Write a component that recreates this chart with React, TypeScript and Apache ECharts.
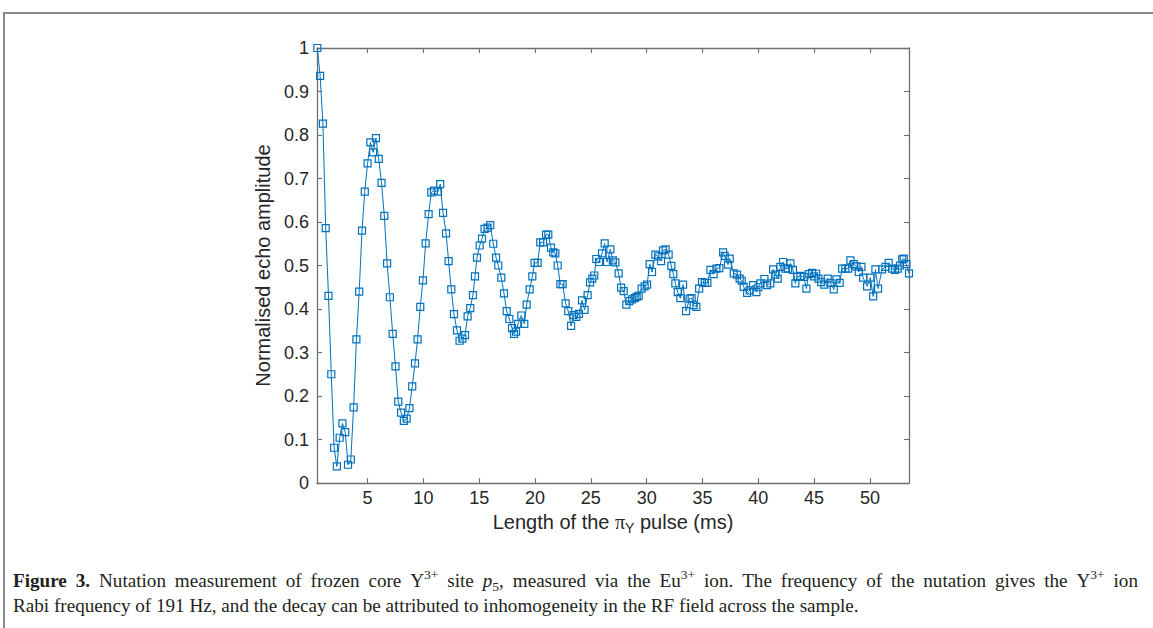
import React, { useEffect, useRef } from "react";
import * as echarts from "echarts";

// Pulse length (ms)
const PULSE_MS = [
  0.5, 0.75, 1, 1.25, 1.5, 1.75, 2, 2.25, 2.5, 2.75, 3, 3.25, 3.5, 3.75, 4, 4.25, 4.5, 4.75,
  5, 5.25, 5.5, 5.75, 6, 6.25, 6.5, 6.75, 7, 7.25, 7.5, 7.75, 8, 8.25, 8.5, 8.75, 9, 9.25,
  9.48, 9.72, 9.96, 10.2, 10.47, 10.71, 10.95, 11.31, 11.51, 11.76, 12.03, 12.26, 12.5, 12.74,
  13.01, 13.24, 13.49, 13.73, 13.96, 14.2, 14.44, 14.62, 14.8, 15.04, 15.25, 15.48, 15.75, 15.99,
  16.26, 16.51, 16.71, 16.98, 17.22, 17.46, 17.7, 17.94, 18.12, 18.3, 18.48, 18.77, 19.04, 19.25,
  19.52, 19.76, 19.96, 20.23, 20.47, 20.72, 20.99, 21.19, 21.43, 21.63, 21.82, 22.03, 22.27, 22.47,
  22.74, 22.98, 23.23, 23.46, 23.7, 23.94, 24.21, 24.44, 24.71, 24.93, 25.13, 25.31, 25.49, 25.73,
  26.0, 26.24, 26.45, 26.75, 26.97, 27.2, 27.49, 27.71, 27.94, 28.18, 28.45, 28.69, 28.92, 29.1,
  29.28, 29.55, 29.82, 30.04, 30.27, 30.48, 30.78, 31.02, 31.29, 31.47, 31.7, 31.97, 32.21, 32.39,
  32.57, 32.78, 33.02, 33.26, 33.53, 33.85, 34.03, 34.21, 34.45, 34.7, 34.96, 35.2, 35.44, 35.71,
  36.0, 36.25, 36.51, 36.85, 36.99, 37.29, 37.44, 37.8, 38.1, 38.33, 38.51, 38.69, 39.0, 39.23,
  39.53, 39.83, 40.01, 40.19, 40.55, 40.79, 41.08, 41.33, 41.53, 41.74, 41.98, 42.22, 42.43, 42.67,
  42.88, 43.1, 43.32, 43.48, 43.77, 44.07, 44.31, 44.52, 44.82, 45.0, 45.18, 45.39, 45.63, 45.92,
  46.22, 46.46, 46.76, 47.0, 47.29, 47.51, 47.8, 48.05, 48.25, 48.55, 48.79, 49.0, 49.24, 49.39,
  49.75, 50.04, 50.29, 50.49, 50.73, 51.09, 51.39, 51.68, 51.99, 52.24, 52.49, 52.69, 52.89, 53.03,
  53.27, 53.5,
];

// Normalised echo amplitude
const ECHO = [
  1.0, 0.936, 0.826, 0.586, 0.43, 0.25, 0.081, 0.038, 0.104, 0.137, 0.117, 0.042, 0.054, 0.174, 0.33, 0.44, 0.58, 0.67,
  0.735, 0.783, 0.76, 0.793, 0.745, 0.69, 0.614, 0.505, 0.427, 0.343, 0.268, 0.187, 0.162, 0.143, 0.148, 0.172, 0.222, 0.275,
  0.33, 0.405, 0.466, 0.551, 0.618, 0.668, 0.672, 0.67, 0.687, 0.621, 0.574, 0.51, 0.445, 0.388,
  0.351, 0.327, 0.332, 0.34, 0.383, 0.402, 0.432, 0.475, 0.518, 0.546, 0.562, 0.584, 0.587, 0.593,
  0.55, 0.518, 0.5, 0.472, 0.436, 0.395, 0.377, 0.356, 0.343, 0.348, 0.366, 0.385, 0.366, 0.41,
  0.445, 0.475, 0.506, 0.506, 0.553, 0.553, 0.571, 0.571, 0.541, 0.53, 0.528, 0.5, 0.457, 0.457,
  0.413, 0.395, 0.361, 0.386, 0.382, 0.389, 0.42, 0.398, 0.432, 0.461, 0.47, 0.477, 0.515, 0.508,
  0.528, 0.551, 0.508, 0.537, 0.512, 0.507, 0.482, 0.449, 0.441, 0.41, 0.418, 0.422, 0.425, 0.428,
  0.43, 0.447, 0.452, 0.456, 0.503, 0.485, 0.525, 0.521, 0.51, 0.535, 0.537, 0.525, 0.499, 0.48,
  0.459, 0.439, 0.425, 0.456, 0.395, 0.424, 0.425, 0.409, 0.405, 0.447, 0.462, 0.46, 0.46, 0.49,
  0.48, 0.493, 0.494, 0.53, 0.522, 0.502, 0.516, 0.482, 0.479, 0.47, 0.465, 0.451, 0.437, 0.443,
  0.455, 0.439, 0.45, 0.459, 0.469, 0.455, 0.459, 0.491, 0.479, 0.47, 0.497, 0.508, 0.493, 0.493,
  0.505, 0.49, 0.459, 0.474, 0.476, 0.474, 0.447, 0.48, 0.483, 0.475, 0.481, 0.47, 0.462, 0.456,
  0.47, 0.46, 0.445, 0.468, 0.46, 0.493, 0.493, 0.493, 0.512, 0.503, 0.498, 0.485, 0.497, 0.472,
  0.452, 0.472, 0.429, 0.491, 0.447, 0.491, 0.497, 0.506, 0.493, 0.49, 0.493, 0.5, 0.514, 0.516,
  0.503, 0.482,
];

const X_TICKS = [5, 10, 15, 20, 25, 30, 35, 40, 45, 50];
const Y_TICKS = [0, 0.1, 0.2, 0.3, 0.4, 0.5, 0.6, 0.7, 0.8, 0.9, 1];

// Caption words: each word is a list of [style, text] segments
const CAPTION_LINE1: [string, string][][] = [
  [["b", "Figure"]],
  [["b", "3."]],
  [["n", "Nutation"]],
  [["n", "measurement"]],
  [["n", "of"]],
  [["n", "frozen"]],
  [["n", "core"]],
  [["n", "Y"], ["sup", "3+"]],
  [["n", "site"]],
  [["i", "p"], ["sub", "5"], ["n", ","]],
  [["n", "measured"]],
  [["n", "via"]],
  [["n", "the"]],
  [["n", "Eu"], ["sup", "3+"]],
  [["n", "ion."]],
  [["n", "The"]],
  [["n", "frequency"]],
  [["n", "of"]],
  [["n", "the"]],
  [["n", "nutation"]],
  [["n", "gives"]],
  [["n", "the"]],
  [["n", "Y"], ["sup", "3+"]],
  [["n", "ion"]],
];
const CAPTION_LINE2 =
  "Rabi frequency of 191 Hz, and the decay can be attributed to inhomogeneity in the RF field across the sample.";

const X_MIN = 0.47;
const X_MAX = 53.5;

const AXIS_COLOR = "#6f6f6f";
const TEXT_COLOR = "#262626";
const CAPTION_COLOR = "#231f20";
const LINE_COLOR = "#0072BD";
const SANS = "Liberation Sans, Arial, sans-serif";
const SERIF = "Liberation Serif, Times New Roman, serif";
const CAP_SIZE = 19.15;
const SUP_SIZE = 13.5;

export default function App() {
  const ref = useRef<HTMLDivElement>(null);

  useEffect(() => {
    if (!ref.current) return;
    const chart = echarts.init(ref.current, null, { renderer: "svg" });
    const data = PULSE_MS.map((x, i) => [x, ECHO[i]]);
    const axisLine = { show: true, onZero: false, lineStyle: { color: AXIS_COLOR, width: 1.3 } };
    const tickStyle = { color: AXIS_COLOR, width: 1.1 };

    const captionRich: any = {
      b: { fontFamily: SERIF, fontSize: CAP_SIZE, fontWeight: "bold", fill: CAPTION_COLOR },
      i: { fontFamily: SERIF, fontSize: CAP_SIZE, fontStyle: "italic", fill: CAPTION_COLOR },
      n: { fontFamily: SERIF, fontSize: CAP_SIZE, fill: CAPTION_COLOR },
      sup: { fontFamily: SERIF, fontSize: SUP_SIZE, verticalAlign: "top", padding: [0, 0, 10, 0], fill: CAPTION_COLOR },
      sub: { fontFamily: SERIF, fontSize: SUP_SIZE, verticalAlign: "bottom", padding: [11, 0, 0, 0], fill: CAPTION_COLOR },
    };
    const fontFor = (s: string) => {
      if (s === "b") return `bold ${CAP_SIZE}px ${SERIF}`;
      if (s === "i") return `italic ${CAP_SIZE}px ${SERIF}`;
      if (s === "sup" || s === "sub") return `${SUP_SIZE}px ${SERIF}`;
      return `${CAP_SIZE}px ${SERIF}`;
    };
    const canvas = document.createElement("canvas");
    const ctx = canvas.getContext("2d")!;
    const widths = CAPTION_LINE1.map((word) =>
      word.reduce((acc, [s, t]) => {
        ctx.font = fontFor(s);
        return acc + ctx.measureText(t).width;
      }, 0)
    );
    const lineLeft = 13;
    const lineRight = 1138;
    const total = widths.reduce((a, b) => a + b, 0);
    const gap = (lineRight - lineLeft - total) / (CAPTION_LINE1.length - 1);
    let cursor = lineLeft;
    const captionWords: any[] = CAPTION_LINE1.map((word, k) => {
      const el = {
        type: "text",
        x: cursor,
        y: 580,
        silent: true,
        style: {
          text: word.map(([s, t]) => `{${s}|${t}}`).join(""),
          fontFamily: SERIF,
          fontSize: CAP_SIZE,
          fill: CAPTION_COLOR,
          verticalAlign: "middle",
          lineHeight: 26,
          rich: captionRich,
        },
      };
      cursor += widths[k] + gap;
      return el;
    });

    chart.setOption({
      animation: false,
      grid: { left: 317, right: 244, top: 48, bottom: 145, containLabel: false },
      xAxis: [
        {
          type: "value",
          min: X_MIN,
          max: X_MAX,
          position: "bottom",
          axisLine,
          axisTick: { show: true, inside: true, length: 5, customValues: X_TICKS, lineStyle: tickStyle },
          axisLabel: {
            show: true,
            customValues: X_TICKS,
            fontSize: 18,
            color: TEXT_COLOR,
            fontFamily: SANS,
            margin: 6,
          },
          splitLine: { show: false },
          name: "Length of the {pi|π}{sub|Y} pulse (ms)",
          nameLocation: "middle",
          nameGap: 26,
          nameTextStyle: {
            fontSize: 20,
            color: TEXT_COLOR,
            fontFamily: SANS,
            rich: {
              pi: { fontSize: 20, fontFamily: SERIF, color: TEXT_COLOR },
              sub: { fontSize: 14, fontFamily: SANS, color: TEXT_COLOR, verticalAlign: "bottom", padding: [12, 0, 0, 0] },
            },
          },
        },
        {
          type: "value",
          min: X_MIN,
          max: X_MAX,
          position: "top",
          axisLine,
          axisTick: { show: true, inside: true, length: 5, customValues: X_TICKS, lineStyle: tickStyle },
          axisLabel: { show: false },
          splitLine: { show: false },
        },
      ],
      yAxis: [
        {
          type: "value",
          min: 0,
          max: 1,
          interval: 0.1,
          position: "left",
          axisLine,
          axisTick: { show: true, inside: true, length: 5, customValues: Y_TICKS, lineStyle: tickStyle },
          axisLabel: {
            customValues: Y_TICKS,
            fontSize: 18,
            color: TEXT_COLOR,
            fontFamily: SANS,
            margin: 8,
            formatter: (v: number) => String(Math.round(v * 10) / 10),
          },
          splitLine: { show: false },
          name: "Normalised echo amplitude",
          nameLocation: "middle",
          nameGap: 34,
          nameTextStyle: { fontSize: 20, color: TEXT_COLOR, fontFamily: SANS },
        },
        {
          type: "value",
          min: 0,
          max: 1,
          interval: 0.1,
          position: "right",
          axisLine,
          axisTick: { show: true, inside: true, length: 5, customValues: Y_TICKS, lineStyle: tickStyle },
          axisLabel: { show: false },
          splitLine: { show: false },
        },
      ],
      series: [
        {
          type: "line",
          data,
          xAxisIndex: 0,
          yAxisIndex: 0,
          symbol: "rect",
          symbolSize: 7,
          showSymbol: true,
          showAllSymbol: true,
          clip: false,
          lineStyle: { color: LINE_COLOR, width: 1 },
          itemStyle: { color: "rgba(255,255,255,0)", borderColor: LINE_COLOR, borderWidth: 1.2 },
          emphasis: { disabled: true },
        },
      ],
      graphic: [
        {
          type: "rect",
          shape: { x: 4, y: 13, width: 1300, height: 800 },
          style: { fill: "none", stroke: "#8a8a8a", lineWidth: 2 },
          silent: true,
        },
        ...captionWords,
        {
          type: "text",
          x: 13,
          y: 605,
          silent: true,
          style: {
            text: CAPTION_LINE2,
            fontFamily: SERIF,
            fontSize: CAP_SIZE,
            fill: CAPTION_COLOR,
            verticalAlign: "middle",
            lineHeight: 26,
          },
        },
      ],
    });
    return () => chart.dispose();
  }, []);

  return (
    <div
      ref={ref}
      style={{ position: "absolute", left: 0, top: 0, width: 1153, height: 628, background: "#ffffff" }}
    />
  );
}
